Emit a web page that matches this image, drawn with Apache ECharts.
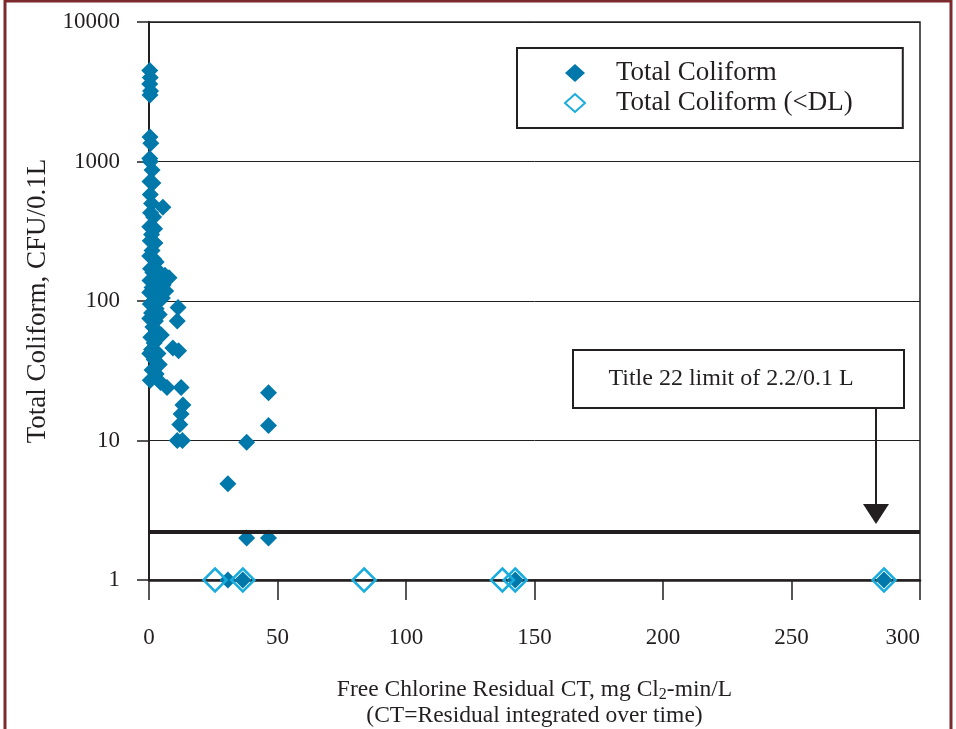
<!DOCTYPE html>
<html>
<head>
<meta charset="utf-8">
<script src="https://cdn.jsdelivr.net/npm/echarts@6/dist/echarts.min.js"></script>
<style>
  html, body { margin: 0; padding: 0; background: #fff; }
  #chart { width: 956px; height: 729px; }
</style>
</head>
<body>
<div id="chart"></div>
<script>
// data: [CT, coliform]
var coliform = [
  [0.3, 4500], [0.5, 4000], [0.3, 3600], [0.6, 3200], [0.4, 3000],
  [0.4, 1500], [0.7, 1350], [0.3, 1050], [0.5, 1000], [1.2, 870],
  [0.4, 720], [1.5, 700], [0.5, 580], [1.0, 500], [5.4, 470],
  [0.6, 430], [1.8, 400], [0.3, 340], [2.2, 330], [1.0, 300],
  [0.5, 270], [2.3, 260], [1.2, 230], [0.3, 210], [1.8, 200],
  [2.8, 190], [0.6, 170], [3.5, 165], [1.5, 160], [4.5, 155],
  [6.2, 153], [7.8, 147], [0.4, 140], [2.6, 135], [5.5, 130],
  [1.2, 125], [3.8, 120], [0.3, 115], [2.2, 110], [4.3, 116],
  [6.5, 118], [1.6, 100], [3.3, 98], [0.5, 95], [5.2, 105],
  [2.8, 88], [11.3, 90], [1.0, 82], [4.0, 80], [0.3, 75],
  [2.5, 72], [11.0, 72], [1.5, 65], [3.0, 60], [0.7, 55],
  [4.8, 57], [2.0, 50], [1.0, 45], [9.3, 46], [11.5, 44],
  [3.5, 42], [0.3, 42], [2.0, 38], [4.0, 35], [1.2, 32],
  [2.8, 30], [0.5, 27], [4.5, 26], [7.0, 24], [12.5, 24],
  [13.2, 18], [12.5, 15.5], [12.0, 13], [11.0, 10], [13.0, 10],
  [30.7, 4.9], [38, 9.7], [46.5, 22], [46.5, 12.8], [38, 2], [46.5, 2],
  [30.7, 1], [36.5, 1], [142.5, 1], [286, 1]
]
var coliformDL = [[25.7, 1], [36.5, 1], [83.7, 1], [137.5, 1], [142.5, 1], [286, 1]]
var xTicks = { min: 0, max: 300, interval: 50 }
var limitValue = 2.2

var serif = "'Liberation Serif', 'DejaVu Serif', serif"
var ink = '#231f20'

var chart = echarts.init(document.getElementById('chart'))

var option = {
  backgroundColor: '#fff',
  animation: false,
  grid: {
    left: 149,
    right: 36,
    top: 22,
    bottom: 149,
    outerBoundsMode: 'none',
    show: true,
    borderColor: ink,
    borderWidth: 1.5
  },
  legend: {
    orient: 'vertical',
    left: 517,
    top: 48,
    itemWidth: 20,
    itemHeight: 18,
    itemGap: 0,
    padding: [10, 50, 10, 47],
    borderColor: ink,
    borderWidth: 2,
    backgroundColor: '#fff',
    textStyle: { fontFamily: serif, fontSize: 27, color: ink, lineHeight: 30, padding: [0, 0, 0, 26] },
    data: ['Total Coliform', 'Total Coliform (<DL)']
  },
  xAxis: {
    type: 'value',
    min: xTicks.min,
    max: xTicks.max,
    interval: xTicks.interval,
    name: '{a|Free Chlorine Residual CT, mg Cl}{s|2}{a|-min/L}\n{a|(CT=Residual integrated over time)}',
    nameLocation: 'middle',
    nameGap: 97,
    nameTextStyle: {
      rich: {
        a: { fontFamily: serif, fontSize: 23.5, color: ink, lineHeight: 26 },
        s: { fontFamily: serif, fontSize: 16, color: ink, lineHeight: 14, verticalAlign: 'bottom' }
      }
    },
    axisLine: { lineStyle: { color: ink, width: 2.5 } },
    axisTick: { length: 20, lineStyle: { color: ink, width: 1.5 } },
    axisLabel: { fontFamily: serif, fontSize: 23, color: ink, margin: 46, alignMaxLabel: 'right' },
    splitLine: { show: false }
  },
  yAxis: {
    type: 'log',
    logBase: 10,
    min: 1,
    max: 10000,
    name: 'Total Coliform, CFU/0.1L',
    nameLocation: 'middle',
    nameGap: 98,
    nameTextStyle: { fontFamily: serif, fontSize: 27, color: ink },
    axisLine: { lineStyle: { color: ink, width: 2 } },
    axisTick: { length: 12, lineStyle: { color: ink, width: 1.5 } },
    axisLabel: {
      fontFamily: serif, fontSize: 23, color: ink, margin: 29,
      formatter: function (v) { return String(Math.round(v)) }
    },
    splitLine: { lineStyle: { color: ink, width: 1 } },
    minorTick: { show: false }
  },
  series: [
    {
      // Title 22 limit line
      name: 'limit',
      type: 'line',
      data: [],
      z: 1,
      markLine: {
        silent: true,
        symbol: 'none',
        label: { show: false },
        lineStyle: { color: ink, width: 4, type: 'solid' },
        data: [{ yAxis: limitValue }]
      }
    },
    {
      name: 'Total Coliform',
      type: 'scatter',
      symbol: 'diamond',
      symbolSize: 17,
      z: 3,
      itemStyle: { color: '#0078aa', opacity: 1 },
      data: coliform
    },
    {
      name: 'Total Coliform (<DL)',
      type: 'scatter',
      symbol: 'diamond',
      symbolSize: 23,
      z: 4,
      itemStyle: { color: 'rgba(0,0,0,0)', borderColor: '#19acdd', borderWidth: 2.5, opacity: 1 },
      data: coliformDL
    }
  ],
  graphic: [
    {
      type: 'rect',
      shape: { x: 5, y: 1, width: 946, height: 760 },
      style: { fill: 'none', stroke: '#7d2a2f', lineWidth: 3 },
      z: 100
    },
    {
      type: 'rect',
      shape: { x: 573, y: 350, width: 331, height: 58 },
      style: { fill: '#fff', stroke: ink, lineWidth: 2 },
      z: 100
    },
    {
      type: 'text',
      x: 731,
      y: 379,
      style: {
        text: 'Title 22 limit of 2.2/0.1 L',
        fontFamily: serif,
        fontSize: 24,
        fill: ink,
        align: 'center',
        verticalAlign: 'middle'
      },
      z: 101
    },
    {
      type: 'line',
      shape: { x1: 876, y1: 408, x2: 876, y2: 506 },
      style: { stroke: ink, lineWidth: 2 },
      z: 100
    },
    {
      type: 'polygon',
      shape: { points: [[863, 504], [889, 504], [876, 524]] },
      style: { fill: ink },
      z: 100
    }
  ]
}

chart.setOption(option)
</script>
</body>
</html>
